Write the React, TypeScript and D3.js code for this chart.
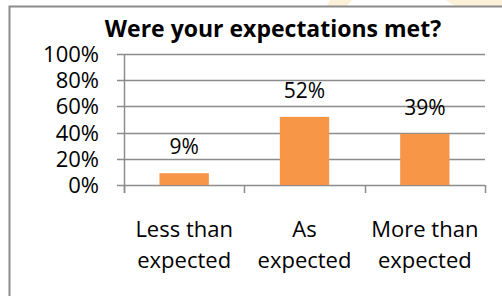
import { useEffect, useRef } from "react";
import * as d3 from "d3";

const categories = ["Less than expected", "As expected", "More than expected"];
const categoryLines = [["Less than", "expected"], ["As", "expected"], ["More than", "expected"]];
const values = [9, 52, 39];
const valueLabels = ["9%", "52%", "39%"];
const yTicks = [0, 20, 40, 60, 80, 100];
const title = "Were your expectations met?";

const FONT = "'Open Sans', sans-serif";

const App = () => {
  const chartRef = useRef<HTMLDivElement | null>(null);

  useEffect(() => {
    const width = 502;
    const height = 296;
    const plot = { left: 124, right: 485, top: 54, bottom: 185 };

    d3.select(chartRef.current).selectAll("svg").remove();

    const svg = d3
      .select(chartRef.current)
      .append("svg")
      .attr("width", width)
      .attr("height", height)
      .style("position", "absolute")
      .style("left", "0px")
      .style("top", "0px")
      .style("background", "#fff");

    // faint watermark bits peeking in at the top
    svg.append("path").attr("d", "M330,0 L352,0 L346,7 L326,7 Z").attr("fill", "#fdf0d8");
    svg.append("path").attr("d", "M446,0 L502,0 L502,7 L456,7 Z").attr("fill", "#fdf0d8");

    // chart frame (continues past the right and bottom edges)
    svg
      .append("rect")
      .attr("x", 9.5)
      .attr("y", 6.5)
      .attr("width", 600)
      .attr("height", 400)
      .attr("fill", "#fff")
      .attr("stroke", "#8c8c8c")
      .attr("stroke-width", 2);

    const xScale = d3
      .scaleBand()
      .domain(categories)
      .range([plot.left, plot.right])
      .paddingInner(0.59)
      .paddingOuter(0.295);

    const yScale = d3.scaleLinear().domain([0, 100]).range([plot.bottom, plot.top]);

    // gridlines + left ticks
    svg
      .append("g")
      .selectAll("line")
      .data(yTicks)
      .enter()
      .append("line")
      .attr("x1", plot.left - 7)
      .attr("x2", plot.right)
      .attr("y1", (d) => Math.round(yScale(d)) + 0.5)
      .attr("y2", (d) => Math.round(yScale(d)) + 0.5)
      .attr("stroke", "#8c8c8c")
      .attr("stroke-width", 1.5);

    // y axis line
    svg
      .append("line")
      .attr("x1", plot.left + 0.5)
      .attr("x2", plot.left + 0.5)
      .attr("y1", plot.top)
      .attr("y2", plot.bottom + 8)
      .attr("stroke", "#8c8c8c")
      .attr("stroke-width", 1.5);

    // x category ticks
    const step = xScale.step();
    const xTickPos = d3.range(categories.length + 1).map((i) => plot.left + i * step);
    svg
      .append("g")
      .selectAll("line")
      .data(xTickPos)
      .enter()
      .append("line")
      .attr("x1", (d) => Math.round(d) + 0.5)
      .attr("x2", (d) => Math.round(d) + 0.5)
      .attr("y1", plot.bottom)
      .attr("y2", plot.bottom + 8)
      .attr("stroke", "#8c8c8c")
      .attr("stroke-width", 1.5);

    // bars
    svg
      .selectAll("rect.bar")
      .data(values)
      .enter()
      .append("rect")
      .attr("class", "bar")
      .attr("x", (d, i) => xScale(categories[i]) as number)
      .attr("y", (d) => yScale(d))
      .attr("width", xScale.bandwidth())
      .attr("height", (d) => plot.bottom - yScale(d))
      .attr("fill", "#f79646");

    // data labels
    svg
      .selectAll("text.val")
      .data(values)
      .enter()
      .append("text")
      .attr("class", "val")
      .attr("x", (d, i) => (xScale(categories[i]) as number) + xScale.bandwidth() / 2)
      .attr("y", (d) => yScale(d) - 19)
      .attr("text-anchor", "middle")
      .style("font-family", FONT)
      .style("font-size", "21px")
      .attr("fill", "#000")
      .text((d, i) => valueLabels[i]);

    // y tick labels
    svg
      .selectAll("text.ytick")
      .data(yTicks)
      .enter()
      .append("text")
      .attr("class", "ytick")
      .attr("x", 99)
      .attr("y", (d) => yScale(d) + 8)
      .attr("text-anchor", "end")
      .style("font-family", FONT)
      .style("font-size", "22px")
      .attr("fill", "#000")
      .text((d) => `${d}%`);

    // category labels
    const cat = svg
      .selectAll("text.cat")
      .data(categories)
      .enter()
      .append("text")
      .attr("class", "cat")
      .attr("text-anchor", "middle")
      .style("font-family", FONT)
      .style("font-size", "22px")
      .attr("fill", "#000");
    cat.each(function (d, i) {
      const cx = (xScale(d) as number) + xScale.bandwidth() / 2;
      categoryLines[i].forEach((line, j) => {
        d3.select(this)
          .append("tspan")
          .attr("x", cx)
          .attr("y", 237 + j * 31)
          .text(line);
      });
    });

    // title
    svg
      .append("text")
      .attr("x", 273)
      .attr("y", 37)
      .attr("text-anchor", "middle")
      .style("font-family", FONT)
      .style("font-size", "23px")
      .style("font-weight", "bold")
      .attr("fill", "#000")
      .text(title);
  }, []);

  return <div ref={chartRef}></div>;
};

export default App;
